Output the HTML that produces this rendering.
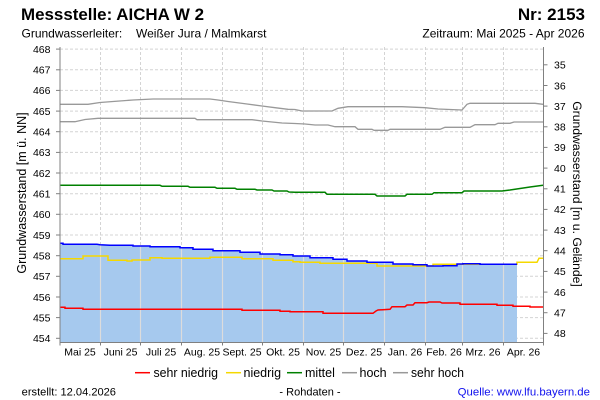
<!DOCTYPE html>
<html>
<head>
<meta charset="utf-8">
<style>
  html, body { margin:0; padding:0; background:#fff; }
  svg { display:block; }
  text { font-family: "Liberation Sans", Arial, sans-serif; fill:#000; }
</style>
</head>
<body>
<svg width="600" height="400" viewBox="0 0 600 400" xmlns="http://www.w3.org/2000/svg">
  <rect x="0" y="0" width="600" height="400" fill="#fff"/>

  <!-- Header -->
  <text x="21" y="20" font-size="17" font-weight="bold" textLength="183" lengthAdjust="spacingAndGlyphs">Messstelle: AICHA W 2</text>
  <text x="585" y="20" font-size="17" font-weight="bold" text-anchor="end">Nr: 2153</text>
  <text x="21.5" y="37.5" font-size="12">Grundwasserleiter:</text>
  <text x="136" y="37.5" font-size="12">Weißer Jura / Malmkarst</text>
  <text x="584.5" y="37.5" font-size="12" text-anchor="end">Zeitraum: Mai 2025 - Apr 2026</text>

  <!-- Horizontal grid (dashed) -->
  <g stroke="#d4d4d4" stroke-width="1" stroke-dasharray="3,2">
    <line x1="60" y1="49.1" x2="543" y2="49.1"/>
    <line x1="60" y1="69.8" x2="543" y2="69.8"/>
    <line x1="60" y1="90.4" x2="543" y2="90.4"/>
    <line x1="60" y1="111.1" x2="543" y2="111.1"/>
    <line x1="60" y1="131.7" x2="543" y2="131.7"/>
    <line x1="60" y1="152.4" x2="543" y2="152.4"/>
    <line x1="60" y1="173.0" x2="543" y2="173.0"/>
    <line x1="60" y1="193.7" x2="543" y2="193.7"/>
    <line x1="60" y1="214.3" x2="543" y2="214.3"/>
    <line x1="60" y1="235.0" x2="543" y2="235.0"/>
    <line x1="60" y1="255.7" x2="543" y2="255.7"/>
    <line x1="60" y1="276.3" x2="543" y2="276.3"/>
    <line x1="60" y1="297.0" x2="543" y2="297.0"/>
    <line x1="60" y1="317.6" x2="543" y2="317.6"/>
    <line x1="60" y1="338.3" x2="543" y2="338.3"/>
  </g>
  <!-- Vertical grid (dashed) -->
  <g stroke="#d4d4d4" stroke-width="1" stroke-dasharray="3,2">
    <line x1="100.5" y1="47" x2="100.5" y2="342"/>
    <line x1="140.5" y1="47" x2="140.5" y2="342"/>
    <line x1="181.5" y1="47" x2="181.5" y2="342"/>
    <line x1="222.5" y1="47" x2="222.5" y2="342"/>
    <line x1="262.5" y1="47" x2="262.5" y2="342"/>
    <line x1="303.5" y1="47" x2="303.5" y2="342"/>
    <line x1="343.5" y1="47" x2="343.5" y2="342"/>
    <line x1="384.5" y1="47" x2="384.5" y2="342"/>
    <line x1="425.5" y1="47" x2="425.5" y2="342"/>
    <line x1="462.5" y1="47" x2="462.5" y2="342"/>
    <line x1="503.5" y1="47" x2="503.5" y2="342"/>
  </g>

  <!-- Blue fill (measured data area) -->
  <polygon fill="#a6c9ee" points="60,342 60,243.3 63,243.3 63,244.3 97,244.3 100,244.8 110,245.3 133,245.3 133,246 150,246 150,246.7 180,246.7 180,247.7 193,247.7 193,249.3 213,249.3 213,250.7 240,250.7 240,252.3 260,252.3 260,254 280,254 280,254.7 293,254.7 293,256 310,256 310,257.7 333,257.7 333,259.3 347,259.3 347,261 367,261 367,262.3 393,262.3 393,264 413,264 413,264.7 427,264.7 427,266 443,266 443,265.7 457,265.7 457,264 463,264 463,263.7 480,263.7 480,264.3 517,264.3 517,342"/>

  <!-- Vertical grid inside fill (solid light) -->
  <g stroke="#dcdcdc" stroke-width="1.2">
    <line x1="100.5" y1="245" x2="100.5" y2="342"/>
    <line x1="140.5" y1="246" x2="140.5" y2="342"/>
    <line x1="181.5" y1="248" x2="181.5" y2="342"/>
    <line x1="222.5" y1="251" x2="222.5" y2="342"/>
    <line x1="262.5" y1="255" x2="262.5" y2="342"/>
    <line x1="303.5" y1="257" x2="303.5" y2="342"/>
    <line x1="343.5" y1="260" x2="343.5" y2="342"/>
    <line x1="384.5" y1="263" x2="384.5" y2="342"/>
    <line x1="425.5" y1="265" x2="425.5" y2="342"/>
    <line x1="462.5" y1="264" x2="462.5" y2="342"/>
    <line x1="503.5" y1="265" x2="503.5" y2="342"/>
  </g>

  <!-- sehr hoch -->
  <polyline fill="none" stroke="#999999" stroke-width="1.3" points="60,104.3 88,104.3 100,102.5 113,101.5 133,100 153,99 210,99 218,100 228,101.5 247,104 262,106 275,107.7 288,109.3 295,109.5 302,111 332,111 338,108.3 348,106.7 402,106.7 425,107.7 438,109 462,110 467,104.3 470,103.3 535,103.3 543,104.3"/>
  <!-- hoch -->
  <polyline fill="none" stroke="#999999" stroke-width="1.3" points="60,121.7 75,121.7 85,119.5 98,118.3 195,118.3 197,119.7 252,119.7 262,121 282,123 295,123.5 305,124 315,125 328,125 335,126.7 355,126.7 358,129.3 372,129.3 374,130.3 388,130.3 390,129.3 440,129.3 445,127.3 470,127.3 475,124.7 495,124.7 498,123.3 510,123.3 514,122 543,122"/>
  <!-- mittel -->
  <polyline fill="none" stroke="#008000" stroke-width="1.5" points="60,185.3 160,185.3 162,186.3 188,186.3 190,187.3 215,187.3 217,188.3 235,188.3 237,189.3 255,189.3 257,190 272,190 274,191 287,191 289,192 295,192.3 325,192.3 327,194.3 375,194.3 377,196 405,196 407,194.3 432,194.3 434,192.7 462,192.7 464,191 502,191 510,190 520,188.5 530,187 543,185.3"/>
  <!-- niedrig -->
  <polyline fill="none" stroke="#f5d800" stroke-width="1.5" points="60,258.7 83,258.7 83,256 108,256 108,260.3 127,260.3 127,261 132,261 132,260 150,260 150,257.7 162,257.7 162,258.3 210,258.3 210,257.3 242,257.3 242,258.7 273,258.7 273,260.3 293,260.3 293,261.7 300,261.7 300,262.3 320,262.3 320,263.3 377,263.3 377,266 433,266 433,264.3 517,264.3 517,262.3 537,262.3 539,258.3 543,258.3"/>
  <!-- measured (blue) -->
  <polyline fill="none" stroke="#0000ff" stroke-width="1.5" points="60,243.3 63,243.3 63,244.3 97,244.3 100,244.8 110,245.3 133,245.3 133,246 150,246 150,246.7 180,246.7 180,247.7 193,247.7 193,249.3 213,249.3 213,250.7 240,250.7 240,252.3 260,252.3 260,254 280,254 280,254.7 293,254.7 293,256 310,256 310,257.7 333,257.7 333,259.3 347,259.3 347,261 367,261 367,262.3 393,262.3 393,264 413,264 413,264.7 427,264.7 427,266 443,266 443,265.7 457,265.7 457,264 463,264 463,263.7 480,263.7 480,264.3 517,264.3"/>
  <!-- sehr niedrig -->
  <polyline fill="none" stroke="#ff0000" stroke-width="1.5" points="60,307.3 65,307.3 65,308.3 83,308.3 83,309.3 242,309.3 242,310.3 280,310.3 280,311.3 290,311.3 290,311.7 323,311.7 323,313.3 373,313.3 376,311 378,310 390,309.3 392,306.7 405,306.7 407,305 413,305 415,302.7 427,302.7 429,302 440,302 442,303 460,303 460,304.3 497,304.3 497,305.3 513,305.3 513,306.3 530,306.3 530,307 543,307"/>

  <!-- Axes -->
  <g stroke="#808080" stroke-width="1">
    <line x1="60" y1="47" x2="60" y2="342.5"/>
    <line x1="543.5" y1="47" x2="543.5" y2="342.5"/>
    <line x1="60" y1="342.5" x2="543.5" y2="342.5"/>
  </g>
  <!-- Left ticks -->
  <g stroke="#808080" stroke-width="1">
    <line x1="56" y1="49.1" x2="60" y2="49.1"/>
    <line x1="56" y1="69.8" x2="60" y2="69.8"/>
    <line x1="56" y1="90.4" x2="60" y2="90.4"/>
    <line x1="56" y1="111.1" x2="60" y2="111.1"/>
    <line x1="56" y1="131.7" x2="60" y2="131.7"/>
    <line x1="56" y1="152.4" x2="60" y2="152.4"/>
    <line x1="56" y1="173.0" x2="60" y2="173.0"/>
    <line x1="56" y1="193.7" x2="60" y2="193.7"/>
    <line x1="56" y1="214.3" x2="60" y2="214.3"/>
    <line x1="56" y1="235.0" x2="60" y2="235.0"/>
    <line x1="56" y1="255.7" x2="60" y2="255.7"/>
    <line x1="56" y1="276.3" x2="60" y2="276.3"/>
    <line x1="56" y1="297.0" x2="60" y2="297.0"/>
    <line x1="56" y1="317.6" x2="60" y2="317.6"/>
    <line x1="56" y1="338.3" x2="60" y2="338.3"/>
  </g>
  <!-- Right ticks -->
  <g stroke="#808080" stroke-width="1">
    <line x1="543.5" y1="64.8" x2="547.5" y2="64.8"/>
    <line x1="543.5" y1="85.5" x2="547.5" y2="85.5"/>
    <line x1="543.5" y1="106.1" x2="547.5" y2="106.1"/>
    <line x1="543.5" y1="126.8" x2="547.5" y2="126.8"/>
    <line x1="543.5" y1="147.4" x2="547.5" y2="147.4"/>
    <line x1="543.5" y1="168.1" x2="547.5" y2="168.1"/>
    <line x1="543.5" y1="188.8" x2="547.5" y2="188.8"/>
    <line x1="543.5" y1="209.4" x2="547.5" y2="209.4"/>
    <line x1="543.5" y1="230.1" x2="547.5" y2="230.1"/>
    <line x1="543.5" y1="250.7" x2="547.5" y2="250.7"/>
    <line x1="543.5" y1="271.4" x2="547.5" y2="271.4"/>
    <line x1="543.5" y1="292.1" x2="547.5" y2="292.1"/>
    <line x1="543.5" y1="312.7" x2="547.5" y2="312.7"/>
    <line x1="543.5" y1="333.4" x2="547.5" y2="333.4"/>
  </g>
  <!-- Bottom ticks -->
  <g stroke="#808080" stroke-width="1">
    <line x1="60" y1="342" x2="60" y2="345.5"/>
    <line x1="100.5" y1="342" x2="100.5" y2="345.5"/>
    <line x1="140.5" y1="342" x2="140.5" y2="345.5"/>
    <line x1="181.5" y1="342" x2="181.5" y2="345.5"/>
    <line x1="222.5" y1="342" x2="222.5" y2="345.5"/>
    <line x1="262.5" y1="342" x2="262.5" y2="345.5"/>
    <line x1="303.5" y1="342" x2="303.5" y2="345.5"/>
    <line x1="343.5" y1="342" x2="343.5" y2="345.5"/>
    <line x1="384.5" y1="342" x2="384.5" y2="345.5"/>
    <line x1="425.5" y1="342" x2="425.5" y2="345.5"/>
    <line x1="462.5" y1="342" x2="462.5" y2="345.5"/>
    <line x1="503.5" y1="342" x2="503.5" y2="345.5"/>
    <line x1="543.5" y1="342" x2="543.5" y2="345.5"/>
  </g>

  <!-- Left tick labels -->
  <g font-size="10.5" text-anchor="end">
    <text x="50.5" y="52.9">468</text>
    <text x="50.5" y="73.6">467</text>
    <text x="50.5" y="94.2">466</text>
    <text x="50.5" y="114.9">465</text>
    <text x="50.5" y="135.5">464</text>
    <text x="50.5" y="156.2">463</text>
    <text x="50.5" y="176.8">462</text>
    <text x="50.5" y="197.5">461</text>
    <text x="50.5" y="218.1">460</text>
    <text x="50.5" y="238.8">459</text>
    <text x="50.5" y="259.5">458</text>
    <text x="50.5" y="280.1">457</text>
    <text x="50.5" y="300.8">456</text>
    <text x="50.5" y="321.4">455</text>
    <text x="50.5" y="342.1">454</text>
  </g>
  <!-- Right tick labels -->
  <g font-size="10.5">
    <text x="554" y="68.6">35</text>
    <text x="554" y="89.3">36</text>
    <text x="554" y="109.9">37</text>
    <text x="554" y="130.6">38</text>
    <text x="554" y="151.2">39</text>
    <text x="554" y="171.9">40</text>
    <text x="554" y="192.6">41</text>
    <text x="554" y="213.2">42</text>
    <text x="554" y="233.9">43</text>
    <text x="554" y="254.5">44</text>
    <text x="554" y="275.2">45</text>
    <text x="554" y="295.9">46</text>
    <text x="554" y="316.5">47</text>
    <text x="554" y="337.2">48</text>
  </g>

  <!-- Month labels -->
  <g font-size="10.5" text-anchor="middle">
    <text x="80" y="355.5">Mai 25</text>
    <text x="120.5" y="355.5">Juni 25</text>
    <text x="161" y="355.5">Juli 25</text>
    <text x="202" y="355.5">Aug. 25</text>
    <text x="242" y="355.5">Sept. 25</text>
    <text x="283" y="355.5">Okt. 25</text>
    <text x="323.5" y="355.5">Nov. 25</text>
    <text x="364" y="355.5">Dez. 25</text>
    <text x="405" y="355.5">Jan. 26</text>
    <text x="444" y="355.5">Feb. 26</text>
    <text x="483" y="355.5">Mrz. 26</text>
    <text x="523.5" y="355.5">Apr. 26</text>
  </g>

  <!-- Axis titles -->
  <text font-size="12.5" text-anchor="middle" transform="translate(26,193) rotate(-90)">Grundwasserstand [m ü. NN]</text>
  <text font-size="12.2" text-anchor="middle" transform="translate(573,194) rotate(90)">Grundwasserstand [m u. Gelände]</text>

  <!-- Legend -->
  <g stroke-width="1.5">
    <line x1="135" y1="372.7" x2="150" y2="372.7" stroke="#ff0000"/>
    <line x1="226" y1="372.7" x2="241" y2="372.7" stroke="#f5d800"/>
    <line x1="287" y1="372.7" x2="302" y2="372.7" stroke="#008000"/>
    <line x1="342" y1="372.7" x2="357" y2="372.7" stroke="#999999"/>
    <line x1="393" y1="372.7" x2="408" y2="372.7" stroke="#999999"/>
  </g>
  <g font-size="12.5">
    <text x="153.5" y="376.8" textLength="64.5" lengthAdjust="spacingAndGlyphs">sehr niedrig</text>
    <text x="243.5" y="376.8">niedrig</text>
    <text x="305" y="376.8">mittel</text>
    <text x="359.5" y="376.8">hoch</text>
    <text x="411" y="376.8" textLength="53" lengthAdjust="spacingAndGlyphs">sehr hoch</text>
  </g>

  <!-- Footer -->
  <text x="21.7" y="395.5" font-size="11" textLength="94.3" lengthAdjust="spacingAndGlyphs">erstellt:  12.04.2026</text>
  <text x="310" y="395.5" font-size="11" text-anchor="middle">- Rohdaten -</text>
  <text x="457.7" y="395.5" font-size="11" textLength="132.3" lengthAdjust="spacingAndGlyphs" style="fill:#1010ee">Quelle: www.lfu.bayern.de</text>
</svg>
</body>
</html>
